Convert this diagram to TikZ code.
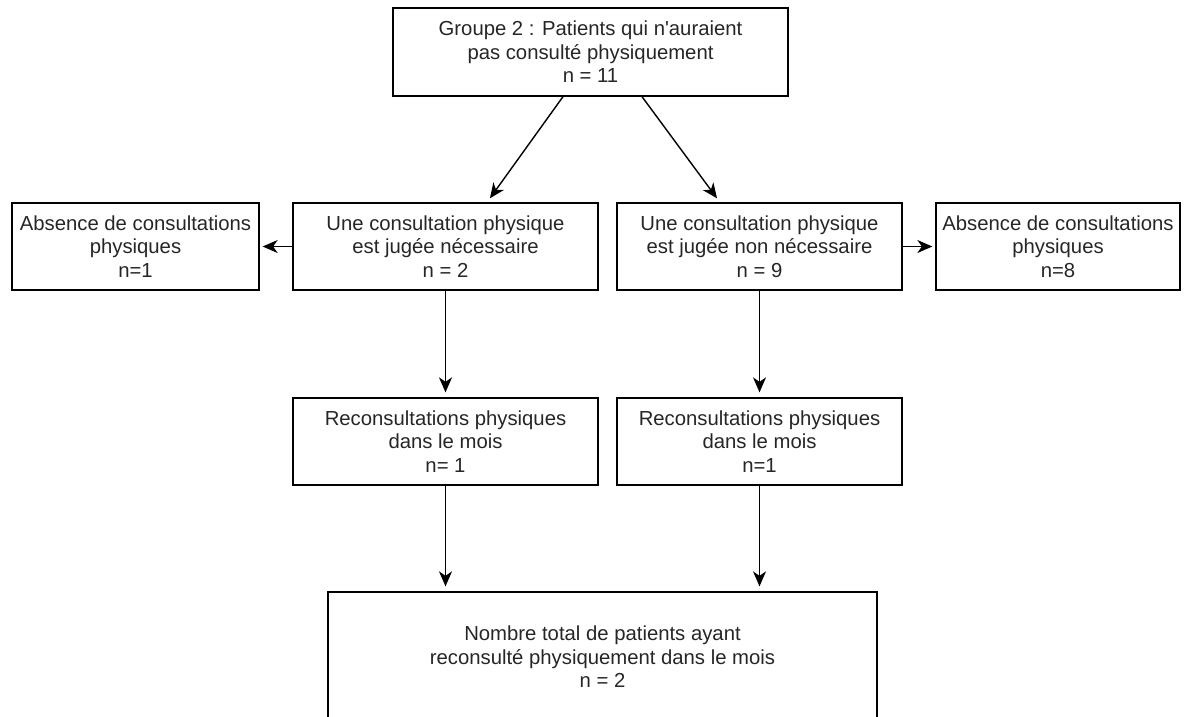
\documentclass[tikz,border=0pt]{standalone}
\usepackage{fontspec}
\setmainfont{Liberation Sans}
\usetikzlibrary{arrows.meta}
\tikzset{
  box/.style={draw, line width=1.3pt, inner sep=0pt, align=center,
    text=black!85, font=\fontsize{20.3}{23.5}\selectfont},
  arr/.style={line width=1.4pt, -{Stealth[length=15pt,width=13pt,inset=4.5pt]}}
}
\begin{document}
\begin{tikzpicture}[x=1pt,y=-1pt]
\useasboundingbox (0,0) rectangle (1184,716);
\clip (0,0) rectangle (1184,716);
% boxes
\node[box, minimum width=395pt, minimum height=88pt] (grp) at (590.5,52)
  {Groupe 2 : Patients qui n\textquotesingle auraient\\pas consulté physiquement\\n = 11};
\node[box, minimum width=305pt, minimum height=87pt] (nec) at (445.5,246.5)
  {Une consultation physique\\est jugée nécessaire\\n = 2};
\node[box, minimum width=285pt, minimum height=87pt] (nonnec) at (759.5,246.5)
  {Une consultation physique\\est jugée non nécessaire\\n = 9};
\node[box, minimum width=247pt, minimum height=87pt] (absL) at (135.5,246.5)
  {Absence de consultations\\physiques\\n=1};
\node[box, minimum width=244pt, minimum height=87pt] (absR) at (1058,246.5)
  {Absence de consultations\\physiques\\n=8};
\node[box, minimum width=305pt, minimum height=87pt] (recL) at (445.5,441.5)
  {Reconsultations physiques\\dans le mois\\n= 1};
\node[box, minimum width=285pt, minimum height=87pt] (recR) at (759.5,441.5)
  {Reconsultations physiques\\dans le mois\\n=1};
\node[box, minimum width=549pt, minimum height=130pt] (total) at (602.5,657)
  {Nombre total de patients ayant\\reconsulté physiquement dans le mois\\n = 2};
% arrows
\draw[arr, shorten >=5pt] ([xshift=-27.5pt]grp.south) -- ([xshift=41.5pt]nec.north);
\draw[arr, shorten >=5pt] ([xshift=51.5pt]grp.south) -- ([xshift=-39.5pt]nonnec.north);
\draw[arr, shorten >=3pt] (nec.west) -- (absL.east);
\draw[arr, shorten >=3pt] (nonnec.east) -- (absR.west);
\draw[arr, shorten >=5pt] (nec.south) -- (recL.north);
\draw[arr, shorten >=5pt] (nonnec.south) -- (recR.north);
\draw[arr, shorten >=5pt] (recL.south) -- (recL.south |- total.north);
\draw[arr, shorten >=5pt] (recR.south) -- (recR.south |- total.north);
\end{tikzpicture}
\end{document}
